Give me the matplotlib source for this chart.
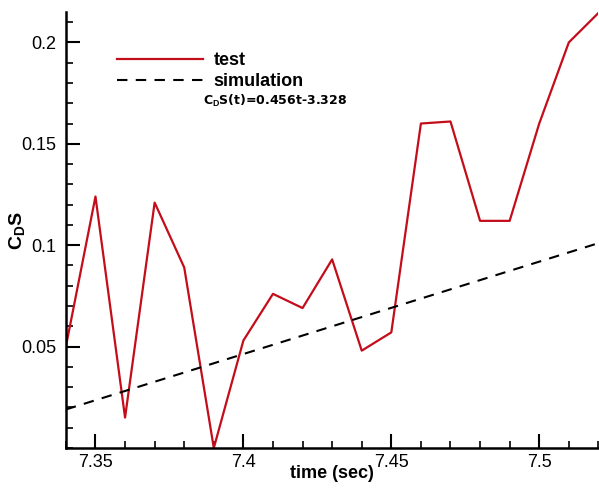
import matplotlib
matplotlib.use("Agg")
import matplotlib.pyplot as plt
from matplotlib.ticker import MultipleLocator

plt.rcParams['font.family'] = ['Liberation Sans', 'DejaVu Sans']
plt.rcParams['mathtext.fontset'] = 'custom'
plt.rcParams['mathtext.rm'] = 'Liberation Sans'
plt.rcParams['mathtext.bf'] = 'Liberation Sans:bold'

# test data
t_test = [7.34, 7.35, 7.36, 7.37, 7.38, 7.39, 7.40, 7.41, 7.42, 7.43,
          7.44, 7.45, 7.46, 7.47, 7.48, 7.49, 7.50, 7.51, 7.52]
cds_test = [0.050, 0.124, 0.015, 0.121, 0.089, 0.000, 0.053, 0.076, 0.069, 0.093,
            0.048, 0.057, 0.160, 0.161, 0.112, 0.112, 0.160, 0.200, 0.2145]

# simulation fit: CdS(t) = 0.456t - 3.328
t_sim = [7.34, 7.52]
cds_sim = [0.019, 0.101]

fig = plt.figure(figsize=(5.99, 4.91), dpi=100)
ax = fig.add_axes([0.110, 0.0876, 0.889, 0.888])

ax.plot(t_test, cds_test, color='#c40d1a', lw=1.6, label='test')
ax.plot(t_sim, cds_sim, color='black', lw=1.5, ls=(0, (5, 4)), label='simulation')

ax.set_xlim(7.34, 7.52)
ax.set_ylim(0, 0.215)
ax.xaxis.set_minor_locator(MultipleLocator(0.01))
ax.yaxis.set_minor_locator(MultipleLocator(0.01))
ax.set_xticks([7.35, 7.4, 7.45, 7.5])
ax.set_xticklabels(['7.35', '7.4', '7.45', '7.5'])
ax.set_yticks([0.05, 0.1, 0.15, 0.2])
ax.set_yticklabels(['0.05', '0.1', '0.15', '0.2'])

ax.tick_params(which='major', direction='in', length=10, width=1.5, labelsize=13)
ax.tick_params(axis='y', which='major', pad=7)
ax.tick_params(axis='x', which='major', pad=4)
ax.tick_params(which='minor', direction='in', length=5, width=1.2)
for s in ['top', 'right']:
    ax.spines[s].set_visible(False)
for s in ['left', 'bottom']:
    ax.spines[s].set_linewidth(1.8)

ax.set_xlabel('time (sec)', fontsize=13, fontweight='bold')
ax.xaxis.set_label_coords(0.5, -0.038)
ax.set_ylabel(r'C$_\mathbf{D}$S', fontsize=14, fontweight='bold')
ax.yaxis.set_label_coords(-0.072, 0.5)

ax.legend(loc='upper left', bbox_to_anchor=(0.065, 0.945), frameon=False,
          handlelength=4.8, handletextpad=0.55, labelspacing=0.2,
          prop={'size': 13, 'weight': 'bold'})

# fit equation, wider bold face like the original
ax.text(0.257, 0.796, r'C$_\mathbf{D}$S(t)=0.456t-3.328', transform=ax.transAxes,
        fontsize=9, fontweight='bold', family='DejaVu Sans', va='center')

fig.savefig('out.png', dpi=100)
